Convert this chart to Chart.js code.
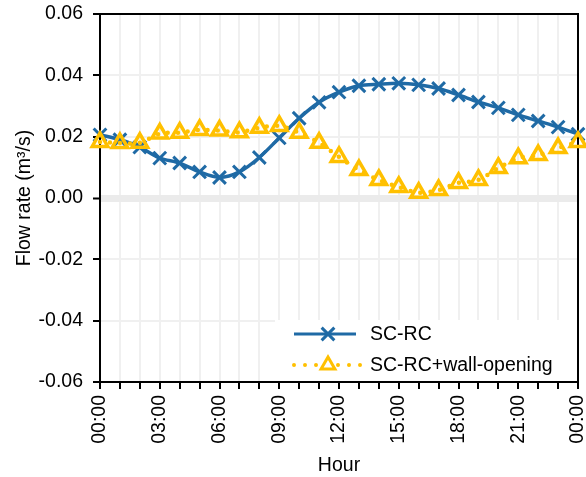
<!DOCTYPE html>
<html>
<head>
<meta charset="utf-8">
<script src="https://cdn.jsdelivr.net/npm/chart.js@4"></script>
<style>
  html, body { margin: 0; padding: 0; background: #fff; overflow: hidden; }
  #wrap { width: 586px; height: 477px; }
</style>
</head>
<body>
<div id="wrap"><canvas id="myChart"></canvas></div>
<script>
// hour of day, 0..24
const hours = [0, 1, 2, 3, 4, 5, 6, 7, 8, 9, 10, 11, 12, 13, 14, 15, 16, 17, 18, 19, 20, 21, 22, 23, 24];
const scRc = [0.0206, 0.019, 0.0166, 0.013, 0.0114, 0.0085, 0.0067, 0.0085, 0.0132, 0.0196, 0.026, 0.0312,
    0.0345, 0.0366, 0.0371, 0.0374, 0.0369, 0.0357, 0.0336, 0.0313, 0.0294, 0.0271, 0.0251, 0.0231, 0.0208];
const scRcWall = [0.0183, 0.0179, 0.018, 0.021, 0.0213, 0.0222, 0.022, 0.0214, 0.0229, 0.0235, 0.0213, 0.018,
    0.0134, 0.0091, 0.0059, 0.0036, 0.0017, 0.0026, 0.0049, 0.0059, 0.0098, 0.013, 0.014, 0.0163, 0.0183];
const seriesNames = ["SC-RC", "SC-RC+wall-opening"];
const yMin = -0.06, yMax = 0.06, yStep = 0.02;
const labelEvery = 3;

const blue = "#1f6aa5";
const gold = "#ffc000";
const font = { family: "'Liberation Sans', Arial, sans-serif", size: 19.5 };

const toPoints = (vals) => vals.map((v, i) => ({ x: hours[i], y: v }));
const hourLabel = (h) => String(h % 24).padStart(2, "0") + ":00";

// let the layout padding alone decide the plot edges
const noOverflow = (s) => {
    s.paddingTop = 0; s.paddingBottom = 0; s.paddingLeft = 0; s.paddingRight = 0;
};

// black frame round the plot area
const frame = {
    id: "frame",
    beforeDatasetsDraw(chart) {
        const { ctx, chartArea: a } = chart;
        ctx.save();
        ctx.strokeStyle = "#000";
        ctx.lineWidth = 2;
        ctx.strokeRect(a.left, a.top, a.right - a.left, a.bottom - a.top);
        ctx.restore();
    },
};

// legend with line + marker samples, bottom right inside the plot
const legendBox = {
    id: "legendBox",
    afterDatasetsDraw(chart) {
        const { ctx, chartArea: a } = chart;
        const lx = a.right - 303, ly = a.bottom - 62;
        ctx.save();
        ctx.fillStyle = "#fff";
        ctx.fillRect(lx, ly, a.right - lx - 1, a.bottom - ly - 1);

        // row 1
        let y = ly + 14;
        ctx.strokeStyle = blue;
        ctx.lineWidth = 3;
        ctx.beginPath();
        ctx.moveTo(lx + 19, y);
        ctx.lineTo(lx + 81, y);
        ctx.stroke();
        let cx = lx + 53, r = 9 * Math.SQRT1_2;
        ctx.beginPath();
        ctx.moveTo(cx - r, y - r); ctx.lineTo(cx + r, y + r);
        ctx.moveTo(cx + r, y - r); ctx.lineTo(cx - r, y + r);
        ctx.stroke();

        // row 2
        y = ly + 45;
        ctx.strokeStyle = gold;
        ctx.lineWidth = 4;
        ctx.lineCap = "round";
        ctx.setLineDash([0, 11]);
        ctx.beginPath();
        ctx.moveTo(lx + 19, y);
        ctx.lineTo(lx + 90, y);
        ctx.stroke();
        ctx.setLineDash([]);
        ctx.lineWidth = 3;
        ctx.lineCap = "butt";
        r = 8;
        ctx.fillStyle = "#fff";
        ctx.beginPath();
        ctx.moveTo(cx, y - r);
        ctx.lineTo(cx + r * Math.sin(2 * Math.PI / 3), y - r * Math.cos(2 * Math.PI / 3));
        ctx.lineTo(cx - r * Math.sin(2 * Math.PI / 3), y - r * Math.cos(2 * Math.PI / 3));
        ctx.closePath();
        ctx.fill();
        ctx.stroke();

        ctx.fillStyle = "#000";
        ctx.font = font.size + "px " + font.family;
        ctx.textBaseline = "middle";
        ctx.fillText(seriesNames[0], lx + 95, ly + 15);
        ctx.fillText(seriesNames[1], lx + 95, ly + 46);
        ctx.restore();
    },
};

const ctx = document.getElementById("myChart");
new Chart(ctx, {
    type: "line",
    data: {
        datasets: [
            {
                label: seriesNames[0],
                data: toPoints(scRc),
                borderColor: blue,
                borderWidth: 3.5,
                tension: 0.3,
                pointStyle: "crossRot",
                pointRadius: 9,
                pointBorderWidth: 3,
                pointBorderColor: blue,
                pointBackgroundColor: blue,
                clip: false,
                order: 2,
            },
            {
                label: seriesNames[1],
                data: toPoints(scRcWall),
                borderColor: gold,
                borderWidth: 4.5,
                borderDash: [0, 10],
                borderCapStyle: "round",
                tension: 0.3,
                pointStyle: "triangle",
                pointRadius: 9,
                pointBorderWidth: 3.5,
                pointBorderColor: gold,
                pointBackgroundColor: "rgba(255,255,255,0)",
                clip: false,
                order: 1,
            },
        ],
    },
    options: {
        responsive: true,
        maintainAspectRatio: false,
        animation: false,
        layout: { autoPadding: false, padding: { top: 14, right: 8, left: 0, bottom: 0 } },
        plugins: {
            legend: { display: false },
            tooltip: { enabled: false },
        },
        scales: {
            x: {
                type: "linear",
                min: hours[0],
                max: hours[hours.length - 1],
                afterFit: (s) => { s.height = 95; noOverflow(s); },
                border: { color: "#000", width: 2 },
                grid: {
                    color: "#f0f0f0",
                    lineWidth: 2,
                    tickColor: "#000",
                    tickWidth: 2,
                    tickLength: 7,
                },
                ticks: {
                    stepSize: 1,
                    autoSkip: false,
                    maxRotation: 90,
                    minRotation: 90,
                    padding: 6,
                    color: "#000",
                    font: font,
                    callback: (v) => (v % labelEvery === 0 ? hourLabel(v) : ""),
                },
                title: {
                    display: true,
                    text: "Hour",
                    color: "#000",
                    font: font,
                    padding: { top: 0, bottom: 0 },
                },
            },
            y: {
                min: yMin,
                max: yMax,
                afterFit: (s) => { s.width = 100; noOverflow(s); },
                border: { color: "#000", width: 2 },
                grid: {
                    color: (c) => (Math.abs(c.tick.value) < 1e-9 ? "#ebebeb" : "#f0f0f0"),
                    lineWidth: (c) => (Math.abs(c.tick.value) < 1e-9 ? 7 : 2),
                    tickColor: "#000",
                    tickWidth: 2,
                    tickLength: 7,
                },
                ticks: {
                    stepSize: yStep,
                    padding: 10,
                    color: "#000",
                    font: font,
                    callback: (v) => (Math.abs(v) < 1e-9 ? "0.00" : v.toFixed(2)),
                },
                title: {
                    display: true,
                    text: "Flow rate (m³/s)",
                    color: "#000",
                    font: font,
                    padding: { top: 13, bottom: 0 },
                },
            },
        },
    },
    plugins: [frame, legendBox],
});
</script>
</body>
</html>
